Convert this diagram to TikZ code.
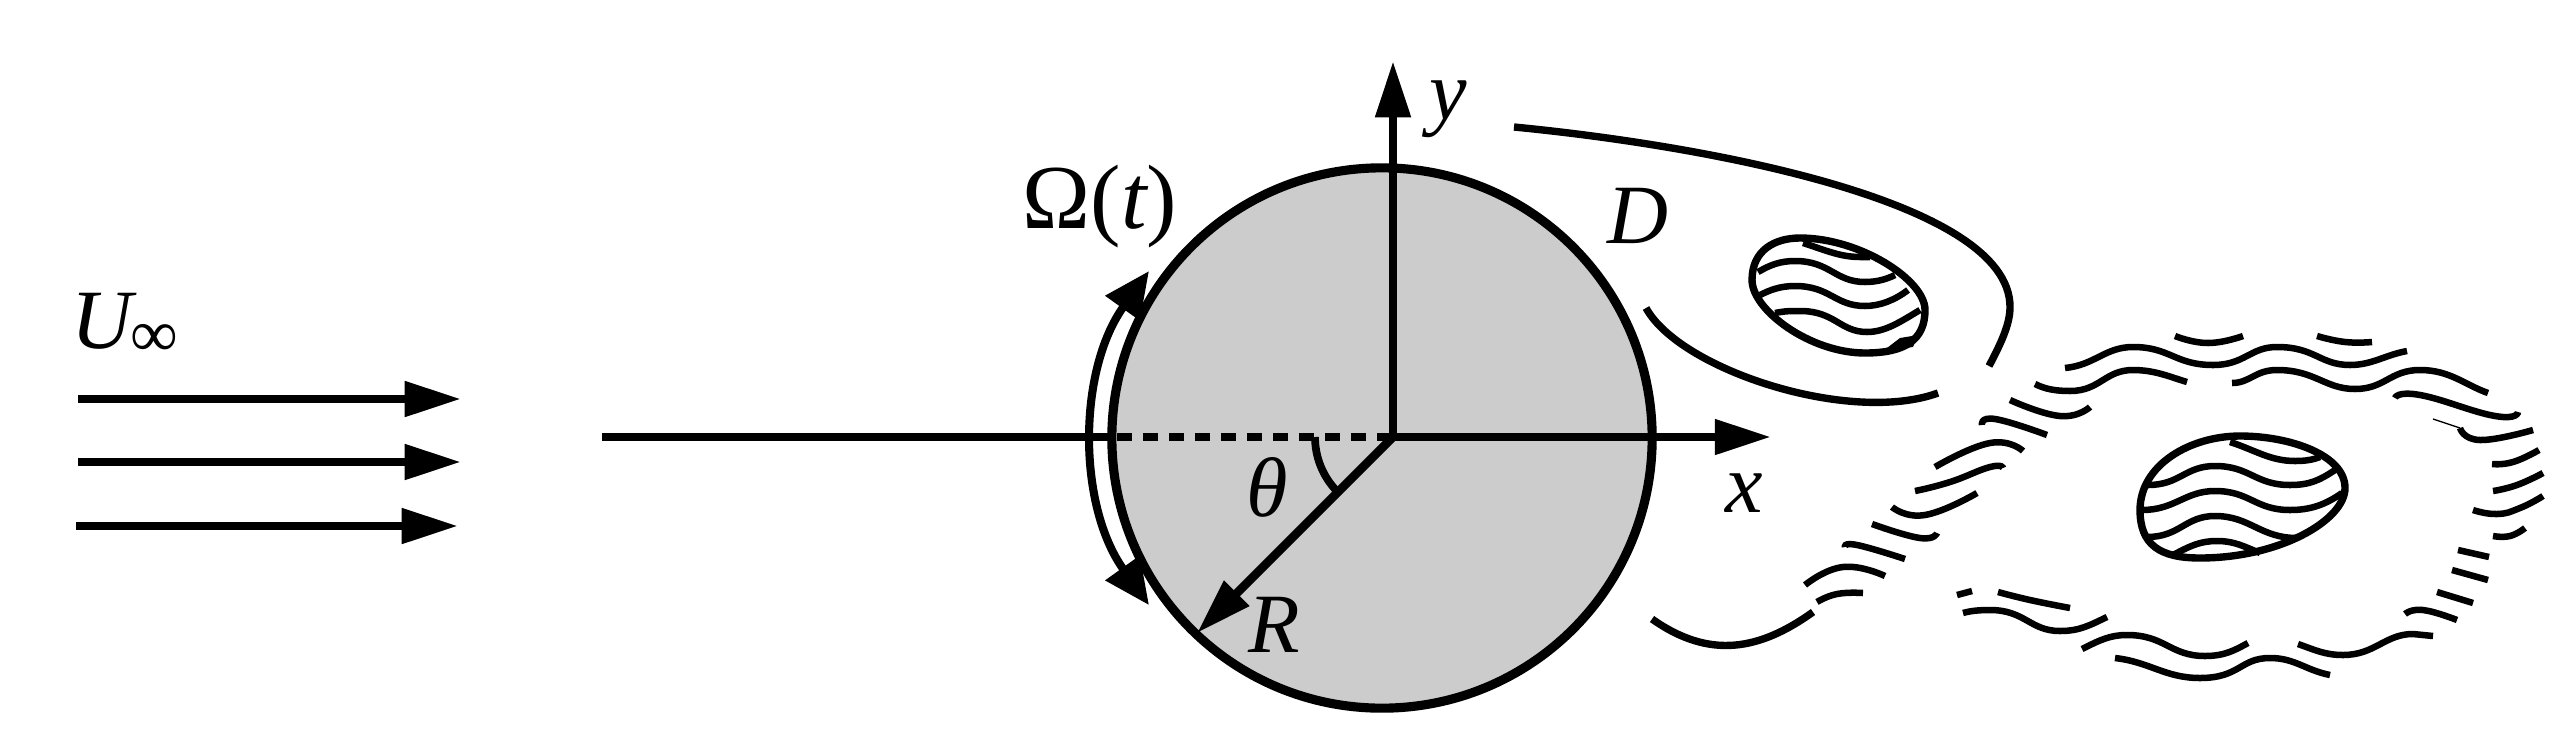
\documentclass[tikz,border=0pt]{standalone}
\usepackage{fontspec}
\setmainfont{Liberation Serif}
\usepackage{xcolor}
\usetikzlibrary{arrows.meta, shapes.geometric}
\definecolor{bodygray}{HTML}{CCCCCC}
\newcommand{\wavy}[1]{\draw[waveline] plot[smooth, tension=0.85] coordinates {#1};}

\begin{document}
\begin{tikzpicture}[x=0.01cm, y=-0.01cm,
            lab/.style={inner sep=0, anchor=base west, font=\fontsize{24}{24}\selectfont\itshape},
            arrow/.style={-{Triangle[length=16pt, width=9.6pt]}, line width=2.5pt},
            swirl/.style={{Triangle[length=13pt, width=11.5pt]}-{Triangle[length=13pt, width=11.5pt]}, line width=2.3pt},
            waveline/.style={line width=1.85pt},
            eddyline/.style={line width=2.1pt},
            contour/.style={line width=2.1pt}]
            \useasboundingbox (0,0) rectangle (2573,754);

            % cylinder
            \node[circle, draw, fill=bodygray, line width=2.6pt, minimum size=5.4cm, inner sep=0, outer sep=0] (body) at (1382,438) {};
            \coordinate (origin) at (1393,437);
            \coordinate (far) at (602,437);
            \coordinate (rim) at (1112,437);
            \coordinate (rimdash) at (1117,437);
            \coordinate (xend) at (1771,437);
            \coordinate (yend) at (1393,61);
            \coordinate (rend) at (1197,633);
            \coordinate (swirltop) at (1149,271);
            \coordinate (thetastart) at (1315,437);

            \draw[line width=2pt] (far) -- (rim);
            \draw[line width=2.5pt, dash pattern=on 4.3pt off 3.1pt] (rimdash) -- (origin);
            \draw[arrow] (origin) -- (xend);
            \draw[arrow] (origin) -- (yend);
            \draw[arrow] (origin) -- (rend);
            \draw[line width=2.2pt] (thetastart) arc[start angle=180, end angle=136, radius=78];
            \draw[swirl] (swirltop) arc[start angle=215.6, end angle=144.4, radius=287];

            % free stream
            \foreach \i/\xa/\xb/\yy in {1/78/461/399, 2/78/461/462, 3/76/458/526} {
                \coordinate (flow\i a) at (\xa,\yy);
                \coordinate (flow\i b) at (\xb,\yy);
                \draw[arrow] (flow\i a) -- (flow\i b);
            }

            % labels
            \node[lab] (uinf) at (71,348) {U\kern-0.5pt\raisebox{-2.3pt}{\fontsize{19}{19}\selectfont\upshape ∞}};
            \node[lab, font=\fontsize{26}{26}\selectfont\itshape] (omega) at (1022,228) {{\upshape Ω(}t{\upshape )}};
            \node[lab] (ylab) at (1429,119) {y};
            \node[lab] (dlab) at (1607,243) {D};
            \node[lab] (xlab) at (1725,512) {x};
            \node[lab] (thetalab) at (1246,516) {θ};
            \node[lab] (rlab) at (1248,652) {R};

            % shear layer above
            \draw[contour] (1514,127) .. controls (1700,145) and (2010,200) .. (2010,307) .. controls (2010,325) and (2000,345) .. (1989,366);
            \draw[contour] (1646,308) .. controls (1680,370) and (1850,425) .. (1938,393);

            % small eddy
            \draw[eddyline] (1752,280) .. controls (1752,250) and (1775,238) .. (1800,238) .. controls (1860,238) and (1925,280) .. (1925,310) .. controls (1925,340) and (1905,353) .. (1865,353) .. controls (1810,353) and (1752,310) .. (1752,280) -- cycle;
            \draw[waveline] (1803,243) .. controls (1825,250) and (1840,257) .. (1860,257) -- (1870,257);
            \draw[waveline] (1758,272) .. controls (1770,265) and (1780,261) .. (1795,261) .. controls (1830,261) and (1835,282) .. (1865,282) .. controls (1875,282) and (1885,280) .. (1895,275);
            \draw[waveline] (1760,295) .. controls (1770,290) and (1780,286) .. (1795,286) .. controls (1830,286) and (1835,306) .. (1865,306) .. controls (1880,306) and (1895,300) .. (1908,290);
            \draw[waveline] (1775,313) .. controls (1785,311) and (1790,311) .. (1800,311) .. controls (1835,311) and (1840,332) .. (1867,332) .. controls (1885,332) and (1900,322) .. (1920,310);
            \fill (1883,351) -- (1900,338) -- (1918,335) -- (1913,347) -- cycle;

            % large eddy
            \draw[eddyline] (2140,510) .. controls (2140,465) and (2190,436) .. (2240,436) .. controls (2290,436) and (2345,455) .. (2345,488) .. controls (2345,520) and (2280,558) .. (2200,558) .. controls (2160,558) and (2140,545) .. (2140,510) -- cycle;
            \draw[waveline] (2230,442) .. controls (2255,450) and (2270,461) .. (2295,461) .. controls (2305,461) and (2312,460) .. (2320,457);
            \draw[waveline] (2148,485) .. controls (2180,485) and (2185,466) .. (2215,466) .. controls (2250,466) and (2255,485) .. (2290,485) .. controls (2310,485) and (2320,480) .. (2335,470);
            \draw[waveline] (2142,510) .. controls (2175,510) and (2185,491) .. (2215,491) .. controls (2250,491) and (2255,510) .. (2290,510) .. controls (2310,510) and (2325,505) .. (2342,493);
            \draw[waveline] (2147,537) .. controls (2180,537) and (2185,516) .. (2215,516) .. controls (2250,516) and (2260,538) .. (2297,538);
            \draw[waveline] (2173,555) .. controls (2190,546) and (2200,541) .. (2217,541) .. controls (2235,541) and (2245,547) .. (2260,553);

            % broken outer contour
            \draw[waveline] (2065,368) .. controls (2095,365) and (2105,347) .. (2133,347) .. controls (2170,347) and (2175,365) .. (2213,365) .. controls (2245,365) and (2250,347) .. (2277,347) .. controls (2315,347) and (2320,365) .. (2350,365) .. controls (2372,365) and (2385,355) .. (2407,351);
            \draw[waveline] (2035,384) .. controls (2045,389) and (2055,391) .. (2070,391) .. controls (2100,391) and (2105,370) .. (2133,370) .. controls (2155,370) and (2170,377) .. (2187,382);
            \draw[waveline] (2232,383) .. controls (2250,383) and (2255,370) .. (2277,370) .. controls (2315,370) and (2325,389) .. (2355,389) .. controls (2385,389) and (2390,370) .. (2420,370) .. controls (2450,370) and (2465,385) .. (2488,393);
            \wavy{(2175,336) (2208,343) (2243,336)}
            \wavy{(2317,336) (2345,342) (2372,342)}
            \wavy{(2395,398) (2420,395) (2495,416) (2518,412)}
            \wavy{(2460,428) (2480,440) (2533,430)}
            \draw[line width=0.4pt] (2433,419) -- (2460,428);
            \wavy{(2492,464) (2513,462) (2539,450)}
            \wavy{(2493,491) (2517,485) (2543,473)}
            \wavy{(2473,510) (2497,514) (2520,508) (2543,496)}
            \wavy{(2493,536) (2510,536) (2525,528)}
            \wavy{(2458,550) (2489,557)}
            \wavy{(2452,570) (2488,580)}
            \wavy{(2437,592) (2473,603)}
            \wavy{(2405,614) (2423,610) (2457,620)}
            \draw[waveline] (2298,644) .. controls (2315,650) and (2325,655) .. (2343,655) .. controls (2375,655) and (2385,634) .. (2413,634) -- (2433,636);
            \draw[waveline] (1963,613) .. controls (1970,611) and (1978,610) .. (1990,610) .. controls (2025,610) and (2030,631) .. (2060,631) .. controls (2080,631) and (2090,625) .. (2107,617);
            \wavy{(1957,595) (1972,591)}
            \wavy{(1998,592) (2030,600) (2070,608)}
            \draw[waveline] (2082,649) .. controls (2100,640) and (2110,635) .. (2127,635) .. controls (2165,635) and (2170,656) .. (2205,656) .. controls (2225,656) and (2235,650) .. (2248,643);
            \draw[waveline] (2115,658) .. controls (2150,662) and (2165,678) .. (2200,678) .. controls (2240,678) and (2240,658) .. (2270,658) .. controls (2295,658) and (2305,670) .. (2330,675);
            \draw[contour] (1652,619) .. controls (1710,660) and (1760,650) .. (1813,612);
            \wavy{(1817,602) (1837,594) (1863,593)}
            \wavy{(1805,585) (1843,567) (1885,576)}
            \wavy{(1845,547) (1857,545) (1905,559)}
            \wavy{(1872,524) (1920,538) (1937,533)}
            \wavy{(1892,507) (1925,515) (1977,493)}
            \wavy{(1915,491) (1950,482) (1990,467) (2003,468)}
            \wavy{(1935,467) (1990,443) (2023,451)}
            \wavy{(1982,425) (1995,419) (2047,435)}
            \wavy{(2010,400) (2060,416) (2090,407)}
        \end{tikzpicture}
\end{document}
